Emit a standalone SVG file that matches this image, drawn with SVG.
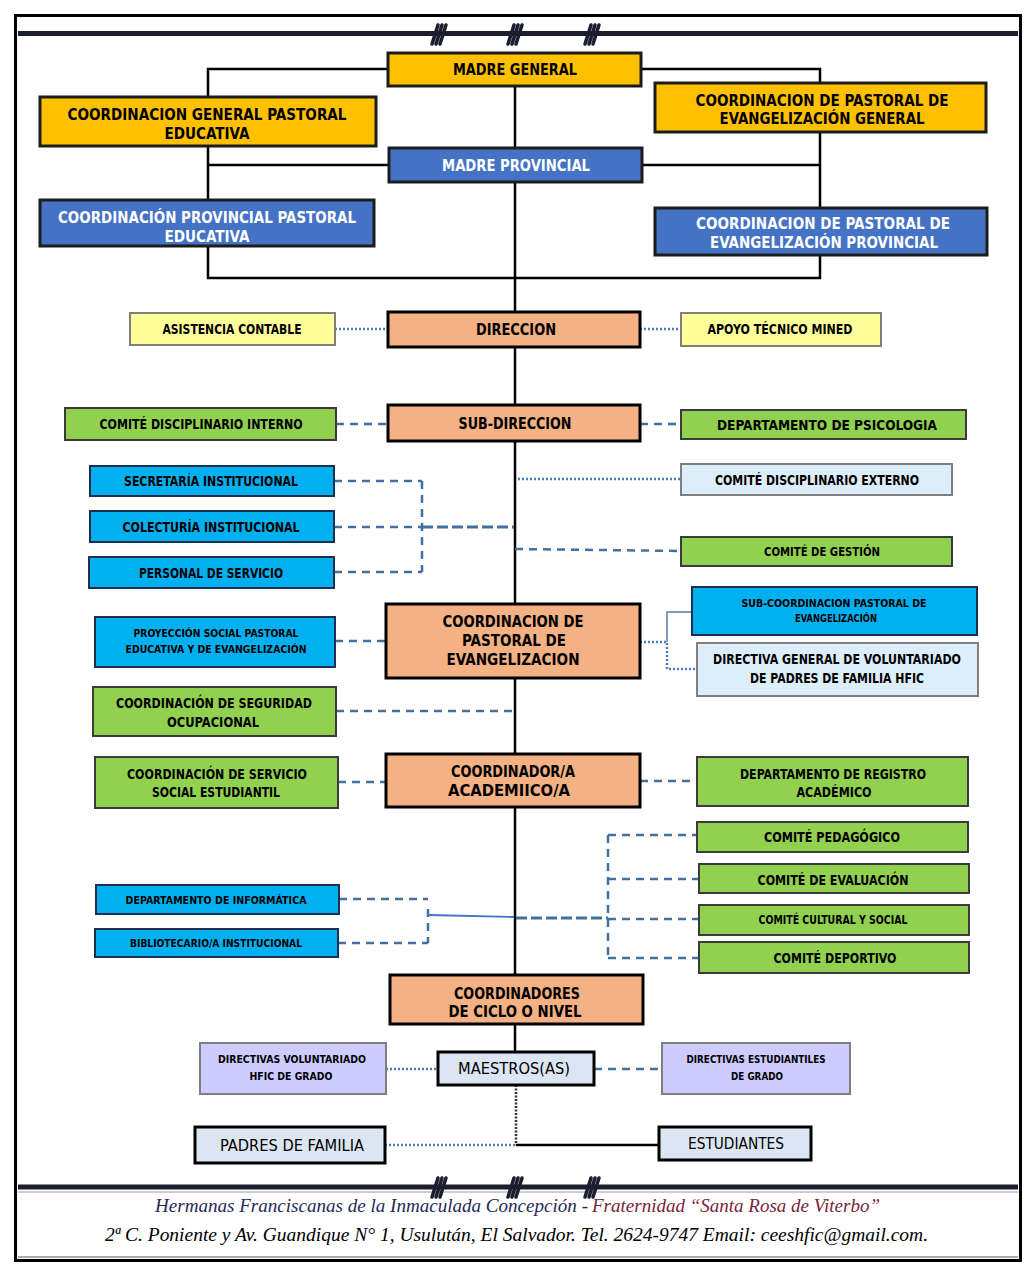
<svg xmlns="http://www.w3.org/2000/svg" width="1031" height="1276" viewBox="0 0 1031 1276">
<style>
.yb{fill:#FFC000;stroke:#1c1c1c;stroke-width:3}
.bb{fill:#4472C4;stroke:#1c1c1c;stroke-width:3}
.sb{fill:#F4B183;stroke:#000;stroke-width:3}
.ly{fill:#FFFF99;stroke:#7F7F7F;stroke-width:2}
.gb{fill:#92D050;stroke:#3B3B3B;stroke-width:2}
.cb{fill:#00B0F0;stroke:#1F2F4F;stroke-width:2}
.lb{fill:#DDEEFB;stroke:#7F7F7F;stroke-width:2}
.lv{fill:#CCCCFF;stroke:#7F7F7F;stroke-width:2}
.gr{fill:#DCE6F2;stroke:#000;stroke-width:3}
text{font-family:"Liberation Sans Narrow","DejaVu Sans Condensed","Liberation Sans",sans-serif;text-anchor:middle;fill:#000}
.t{font-weight:bold}
.w{fill:#fff}
.r{font-weight:normal}
.solid{fill:none;stroke:#000;stroke-width:2.5}
.dash{fill:none;stroke:#41719C;stroke-width:2.5;stroke-dasharray:8 6}
.dense{fill:none;stroke:#41719C;stroke-width:3;stroke-dasharray:11 4}
.dot{fill:none;stroke:#4A7EBB;stroke-width:2.5;stroke-dasharray:2 2}
.hash{fill:none;stroke:#1a1e2e;stroke-width:3.5;stroke-linecap:round}
.foot{font-family:"Liberation Serif",serif;font-style:italic;text-anchor:start}
</style>
<rect x="0" y="0" width="1031" height="1276" fill="#fff"/>
<g id="frame">
<rect x="15.5" y="15.5" width="1005" height="1245" fill="none" stroke="#000" stroke-width="3"/>
<line x1="18" y1="33.5" x2="1018" y2="33.5" stroke="#1a1e2e" stroke-width="5"/>
<line x1="18" y1="1187" x2="1018" y2="1187" stroke="#1a1e2e" stroke-width="5"/>
<line x1="18" y1="1192" x2="1018" y2="1192" stroke="#9a9a9a" stroke-width="1"/>
<line x1="18" y1="1257" x2="1018" y2="1257" stroke="#555" stroke-width="1.2"/>
<g class="hash">
<path d="M432 44 L438 25 M436 44 L442 25 M440 44 L446 25"/>
<path d="M508 44 L514 25 M512 44 L518 25 M516 44 L522 25"/>
<path d="M585 44 L591 25 M589 44 L595 25 M593 44 L599 25"/>
<path d="M432 1197 L438 1178 M436 1197 L442 1178 M440 1197 L446 1178"/>
<path d="M508 1197 L514 1178 M512 1197 L518 1178 M516 1197 L522 1178"/>
<path d="M585 1197 L591 1178 M589 1197 L595 1178 M593 1197 L599 1178"/>
</g>
</g>
<g id="connectors">
<path class="solid" d="M388 69 H208 V97"/>
<path class="solid" d="M641 69 H820 V83"/>
<path class="solid" d="M515 86 V1052"/>
<path class="solid" d="M208 146 V200 M389 165 H208"/>
<path class="solid" d="M820 132 V208 M642 165 H820"/>
<path class="solid" d="M208 246 V278 H820 V255"/>
<path fill="none" stroke="#333" stroke-width="2.5" stroke-dasharray="2 1.5" d="M516 1085 V1145"/>
<path class="solid" d="M516 1145 H659"/>
<path class="dot" d="M385 1145 H516"/>
<path class="dot" d="M386 1069 H438"/>
<path class="dash" d="M594 1069 H662"/>
<path class="dot" d="M335 329 H388 M640 329 H681"/>
<path class="dash" d="M336 424 H388 M640 424 H681"/>
<path class="dash" d="M334 481 H422 M334 527 H422 M334 572 H422 M422 481 V572"/>
<path class="dense" d="M422 527 H514"/>
<path class="dot" d="M518 479 H681"/>
<path class="dash" d="M515 549 L681 551"/>
<path class="dash" d="M335 641 H386"/>
<path class="dot" d="M640 642 H667 V669 H697"/>
<path fill="none" stroke="#7F9DB9" stroke-width="2" d="M667 642 V612 H692"/>
<path class="dash" d="M336 711 H514"/>
<path class="dash" d="M338 782 H386 M640 781 H697"/>
<path class="dash" d="M339 899 H428 M338 943 H428 M428 909 V943"/>
<path fill="none" stroke="#4472C4" stroke-width="1.8" d="M428 915 L514 917"/>
<path class="dense" d="M516 918 H608"/>
<path class="dash" d="M608 835 V958 M608 835 H697 M608 879 H699 M608 919 H699 M608 958 H699"/>
</g>
<g id="n1"><rect class="yb" x="388" y="53" width="253" height="33"/><text class="t" x="515" y="75" font-size="16" textLength="124" lengthAdjust="spacingAndGlyphs">MADRE GENERAL</text></g>
<g id="n2"><rect class="yb" x="40" y="97" width="336" height="49"/><text class="t" x="207" y="120" font-size="16" textLength="279" lengthAdjust="spacingAndGlyphs">COORDINACION  GENERAL  PASTORAL</text><text class="t" x="207" y="139" font-size="16" textLength="85" lengthAdjust="spacingAndGlyphs">EDUCATIVA</text></g>
<g id="n3"><rect class="yb" x="655" y="83" width="331" height="49"/><text class="t" x="822" y="106" font-size="16" textLength="253" lengthAdjust="spacingAndGlyphs">COORDINACION  DE PASTORAL DE</text><text class="t" x="822" y="124" font-size="16" textLength="205" lengthAdjust="spacingAndGlyphs">EVANGELIZACIÓN GENERAL</text></g>
<g id="n4"><rect class="bb" x="389" y="148" width="253" height="34"/><text class="t w" x="516" y="171" font-size="16" textLength="148" lengthAdjust="spacingAndGlyphs">MADRE PROVINCIAL</text></g>
<g id="n5"><rect class="bb" x="40" y="200" width="334" height="46"/><text class="t w" x="207" y="223" font-size="16" textLength="298" lengthAdjust="spacingAndGlyphs">COORDINACIÓN  PROVINCIAL PASTORAL</text><text class="t w" x="207" y="242" font-size="16" textLength="85" lengthAdjust="spacingAndGlyphs">EDUCATIVA</text></g>
<g id="n6"><rect class="bb" x="655" y="208" width="332" height="47"/><text class="t w" x="823" y="229" font-size="16" textLength="254" lengthAdjust="spacingAndGlyphs">COORDINACION  DE PASTORAL DE</text><text class="t w" x="824" y="248" font-size="16" textLength="228" lengthAdjust="spacingAndGlyphs">EVANGELIZACIÓN PROVINCIAL</text></g>
<g id="n7"><rect class="ly" x="130" y="313" width="205" height="32"/><text class="t" x="232" y="334" font-size="14" textLength="139" lengthAdjust="spacingAndGlyphs">ASISTENCIA CONTABLE</text></g>
<g id="n8"><rect class="sb" x="388" y="312" width="252" height="35"/><text class="t" x="516" y="335" font-size="16" textLength="80" lengthAdjust="spacingAndGlyphs">DIRECCION</text></g>
<g id="n9"><rect class="ly" x="681" y="313" width="200" height="33"/><text class="t" x="780" y="334" font-size="14" textLength="145" lengthAdjust="spacingAndGlyphs">APOYO TÉCNICO MINED</text></g>
<g id="n10"><rect class="gb" x="65" y="408" width="271" height="32"/><text class="t" x="201" y="429" font-size="14" textLength="203" lengthAdjust="spacingAndGlyphs">COMITÉ DISCIPLINARIO INTERNO</text></g>
<g id="n11"><rect class="sb" x="388" y="405" width="252" height="36"/><text class="t" x="515" y="429" font-size="16" textLength="113" lengthAdjust="spacingAndGlyphs">SUB-DIRECCION</text></g>
<g id="n12"><rect class="gb" x="681" y="410" width="285" height="29"/><text class="t" x="827" y="430" font-size="14" textLength="220" lengthAdjust="spacingAndGlyphs">DEPARTAMENTO  DE PSICOLOGIA</text></g>
<g id="n13"><rect class="cb" x="90" y="466" width="244" height="30"/><text class="t" x="211" y="486" font-size="14" textLength="174" lengthAdjust="spacingAndGlyphs">SECRETARÍA INSTITUCIONAL</text></g>
<g id="n14"><rect class="cb" x="90" y="511" width="244" height="31"/><text class="t" x="211" y="532" font-size="14" textLength="177" lengthAdjust="spacingAndGlyphs">COLECTURÍA INSTITUCIONAL</text></g>
<g id="n15"><rect class="cb" x="89" y="557" width="245" height="31"/><text class="t" x="211" y="578" font-size="14" textLength="144" lengthAdjust="spacingAndGlyphs">PERSONAL DE SERVICIO</text></g>
<g id="n16"><rect class="lb" x="681" y="464" width="271" height="31"/><text class="t" x="817" y="485" font-size="14" textLength="204" lengthAdjust="spacingAndGlyphs">COMITÉ DISCIPLINARIO EXTERNO</text></g>
<g id="n17"><rect class="gb" x="681" y="537" width="271" height="29"/><text class="t" x="822" y="556" font-size="12" textLength="116" lengthAdjust="spacingAndGlyphs">COMITÉ  DE GESTIÓN</text></g>
<g id="n18"><rect class="cb" x="95" y="617" width="240" height="50"/><text class="t" x="216" y="637" font-size="10.5" textLength="165" lengthAdjust="spacingAndGlyphs">PROYECCIÓN  SOCIAL PASTORAL</text><text class="t" x="216" y="653" font-size="10.5" textLength="181" lengthAdjust="spacingAndGlyphs">EDUCATIVA  Y DE EVANGELIZACIÓN</text></g>
<g id="n19"><rect class="sb" x="386" y="604" width="254" height="74"/><text class="t" x="513" y="627" font-size="16" textLength="141" lengthAdjust="spacingAndGlyphs">COORDINACION  DE</text><text class="t" x="514" y="646" font-size="16" textLength="104" lengthAdjust="spacingAndGlyphs">PASTORAL DE</text><text class="t" x="513" y="665" font-size="16" textLength="133" lengthAdjust="spacingAndGlyphs">EVANGELIZACION</text></g>
<g id="n20"><rect class="cb" x="692" y="587" width="285" height="48"/><text class="t" x="834" y="607" font-size="11" textLength="185" lengthAdjust="spacingAndGlyphs">SUB-COORDINACION  PASTORAL  DE</text><text class="t" x="836" y="622" font-size="11" textLength="82" lengthAdjust="spacingAndGlyphs">EVANGELIZACIÓN</text></g>
<g id="n21"><rect class="lb" x="697" y="643" width="281" height="53"/><text class="t" x="837" y="664" font-size="14" textLength="248" lengthAdjust="spacingAndGlyphs">DIRECTIVA GENERAL DE VOLUNTARIADO</text><text class="t" x="837" y="683" font-size="14" textLength="174" lengthAdjust="spacingAndGlyphs">DE PADRES DE FAMILIA HFIC</text></g>
<g id="n22"><rect class="gb" x="93" y="687" width="243" height="49"/><text class="t" x="214" y="708" font-size="14" textLength="196" lengthAdjust="spacingAndGlyphs">COORDINACIÓN DE SEGURIDAD</text><text class="t" x="213" y="727" font-size="14" textLength="92" lengthAdjust="spacingAndGlyphs">OCUPACIONAL</text></g>
<g id="n23"><rect class="gb" x="95" y="757" width="243" height="51"/><text class="t" x="217" y="779" font-size="14" textLength="180" lengthAdjust="spacingAndGlyphs">COORDINACIÓN DE SERVICIO</text><text class="t" x="216" y="797" font-size="14" textLength="128" lengthAdjust="spacingAndGlyphs">SOCIAL ESTUDIANTIL</text></g>
<g id="n24"><rect class="sb" x="386" y="754" width="254" height="53"/><text class="t" x="513" y="777" font-size="16" textLength="124" lengthAdjust="spacingAndGlyphs">COORDINADOR/A</text><text class="t" x="509" y="796" font-size="16" textLength="122" lengthAdjust="spacingAndGlyphs">ACADEMIICO/A</text></g>
<g id="n25"><rect class="gb" x="697" y="757" width="271" height="49"/><text class="t" x="833" y="779" font-size="14" textLength="186" lengthAdjust="spacingAndGlyphs">DEPARTAMENTO DE REGISTRO</text><text class="t" x="834" y="797" font-size="14" textLength="75" lengthAdjust="spacingAndGlyphs">ACADÉMICO</text></g>
<g id="n26"><rect class="gb" x="697" y="822" width="271" height="30"/><text class="t" x="832" y="842" font-size="14" textLength="136" lengthAdjust="spacingAndGlyphs">COMITÉ PEDAGÓGICO</text></g>
<g id="n27"><rect class="gb" x="699" y="864" width="270" height="29"/><text class="t" x="833" y="885" font-size="14" textLength="151" lengthAdjust="spacingAndGlyphs">COMITÉ DE EVALUACIÓN</text></g>
<g id="n28"><rect class="gb" x="699" y="905" width="270" height="30"/><text class="t" x="833" y="924" font-size="12" textLength="149" lengthAdjust="spacingAndGlyphs">COMITÉ  CULTURAL Y SOCIAL</text></g>
<g id="n29"><rect class="gb" x="699" y="942" width="270" height="31"/><text class="t" x="835" y="963" font-size="14" textLength="123" lengthAdjust="spacingAndGlyphs">COMITÉ DEPORTIVO</text></g>
<g id="n30"><rect class="cb" x="96" y="885" width="243" height="29"/><text class="t" x="216" y="904" font-size="10.5" textLength="181" lengthAdjust="spacingAndGlyphs">DEPARTAMENTO  DE INFORMÁTICA</text></g>
<g id="n31"><rect class="cb" x="95" y="929" width="243" height="28"/><text class="t" x="216" y="947" font-size="10.5" textLength="172" lengthAdjust="spacingAndGlyphs">BIBLIOTECARIO/A  INSTITUCIONAL</text></g>
<g id="n32"><rect class="sb" x="390" y="975" width="253" height="49"/><text class="t" x="517" y="999" font-size="16" textLength="126" lengthAdjust="spacingAndGlyphs">COORDINADORES</text><text class="t" x="515" y="1017" font-size="16" textLength="133" lengthAdjust="spacingAndGlyphs">DE CICLO O NIVEL</text></g>
<g id="n33"><rect class="lv" x="200" y="1043" width="186" height="51"/><text class="t" x="292" y="1063" font-size="10.5" textLength="148" lengthAdjust="spacingAndGlyphs">DIRECTIVAS  VOLUNTARIADO</text><text class="t" x="291" y="1080" font-size="10.5" textLength="83" lengthAdjust="spacingAndGlyphs">HFIC DE GRADO</text></g>
<g id="n34"><rect class="gr" x="438" y="1052" width="156" height="33"/><text class="r" x="514" y="1074" font-size="16" textLength="112" lengthAdjust="spacingAndGlyphs">MAESTROS(AS)</text></g>
<g id="n35"><rect class="lv" x="662" y="1043" width="188" height="51"/><text class="t" x="756" y="1063" font-size="10.5" textLength="139" lengthAdjust="spacingAndGlyphs">DIRECTIVAS ESTUDIANTILES</text><text class="t" x="757" y="1080" font-size="10.5" textLength="52" lengthAdjust="spacingAndGlyphs">DE GRADO</text></g>
<g id="n36"><rect class="gr" x="195" y="1127" width="190" height="36"/><text class="r" x="292" y="1151" font-size="16" textLength="144" lengthAdjust="spacingAndGlyphs">PADRES  DE  FAMILIA</text></g>
<g id="n37"><rect class="gr" x="659" y="1127" width="152" height="33"/><text class="r" x="736" y="1149" font-size="16" textLength="96" lengthAdjust="spacingAndGlyphs">ESTUDIANTES</text></g>
<g id="footer">
<text class="foot" x="155" y="1212" font-size="19" fill="#1F2A5A" style="fill:#1F2A5A" textLength="433" lengthAdjust="spacingAndGlyphs">Hermanas Franciscanas  de la Inmaculada Concepción - </text>
<text class="foot" x="592" y="1212" font-size="19" style="fill:#7B1F3A" textLength="288" lengthAdjust="spacingAndGlyphs">Fraternidad “Santa  Rosa de Viterbo”</text>
<text class="foot" x="105" y="1241" font-size="19" textLength="823" lengthAdjust="spacingAndGlyphs">2ª C. Poniente y Av. Guandique N° 1, Usulután, El Salvador. Tel. 2624-9747 Email: ceeshfic@gmail.com.</text>
</g>
</svg>
